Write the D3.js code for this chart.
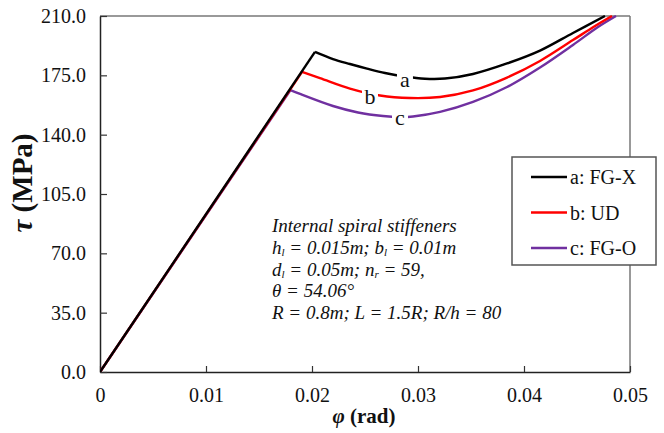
<!DOCTYPE html>
<html>
<head>
<meta charset="utf-8">
<script src="https://cdn.jsdelivr.net/npm/d3@7"></script>
<style>
  html, body { margin: 0; padding: 0; background: #fff; }
  svg { display: block; }
  svg text { font-family: "Liberation Serif", "Tinos", "Times New Roman", "Nimbus Roman", "DejaVu Serif", serif; }
</style>
</head>
<body>
<svg id="chart" width="664" height="433"></svg>
<script>
// ---- data ----
const seriesNames = ["a: FG-X", "b: UD", "c: FG-O"];
const seriesKeys = ["a", "b", "c"];
const seriesColors = ["#000000", "#ff0000", "#7030a0"];

const phiA = [0, 0.02028, 0.02198, 0.02358, 0.02519, 0.02689, 0.02877, 0.03066, 0.03255, 0.03519, 0.03840, 0.04151, 0.04462, 0.04764];
const tauA = [0, 188.8, 184.6, 181.7, 179.0, 176.4, 174.3, 173.0, 173.1, 175.8, 182.0, 189.6, 200.0, 210.0];

const phiB = [0, 0.01906, 0.02075, 0.02358, 0.02642, 0.02925, 0.03208, 0.03519, 0.03840, 0.04151, 0.04462, 0.04670, 0.04830];
const tauB = [0, 177.0, 173.4, 167.2, 163.1, 161.6, 162.2, 166.1, 173.7, 183.5, 195.8, 204.1, 210.0];

const phiC = [0, 0.01797, 0.01887, 0.02198, 0.02434, 0.02670, 0.02830, 0.02953, 0.03208, 0.03519, 0.03840, 0.04151, 0.04462, 0.04698, 0.04868];
const tauC = [0, 166.3, 164.0, 156.9, 153.1, 151.0, 150.4, 150.7, 153.4, 159.3, 168.1, 179.6, 192.9, 203.5, 210.0];

// curve label positions (phi, tau)
const labelPhi = [0.02877, 0.02547, 0.02830];
const labelTau = [172.2, 162.2, 149.8];

const xTicks = [0, 0.01, 0.02, 0.03, 0.04, 0.05];
const xTickLabels = ["0", "0.01", "0.02", "0.03", "0.04", "0.05"];
const yTicks = [0, 35, 70, 105, 140, 175, 210];
const yTickLabels = ["0.0", "35.0", "70.0", "105.0", "140.0", "175.0", "210.0"];

const noteLines = [
  [["Internal spiral stiffeners", null]],
  [["h", null], ["l", "sub"], [" = 0.015m; b", null], ["l", "sub"], [" = 0.01m", null]],
  [["d", null], ["l", "sub"], [" = 0.05m; n", null], ["r", "sub"], [" = 59,", null]],
  [["\u03b8 = 54.06\u00b0", null]],
  [["R = 0.8m; L = 1.5R; R/h = 80", null]]
];

// ---- layout ----
const FONT = "'Liberation Serif', 'Tinos', 'Times New Roman', 'Nimbus Roman', 'DejaVu Serif', serif";
const svg = d3.select("#chart");
const L = 100, R = 630, T = 16, B = 372;
const x = d3.scaleLinear().domain([0, 0.05]).range([L, R]);
const y = d3.scaleLinear().domain([0, 210]).range([B, T]);

svg.append("defs").append("clipPath").attr("id", "clip")
  .append("rect").attr("x", L).attr("y", T - 1).attr("width", R - L).attr("height", B - T + 1);

// frame top/right
svg.append("line").attr("x1", L).attr("x2", R).attr("y1", T).attr("y2", T)
  .attr("stroke", "#777").attr("stroke-width", 1.5);
svg.append("line").attr("x1", R).attr("x2", R).attr("y1", T).attr("y2", B)
  .attr("stroke", "#777").attr("stroke-width", 1.5);

// axes
const xAxis = d3.axisBottom(x).tickValues(xTicks).tickFormat((d, i) => xTickLabels[i])
  .tickSizeInner(-6).tickSizeOuter(0).tickPadding(16);
const gx = svg.append("g").attr("transform", `translate(0,${B})`).call(xAxis);
const yAxis = d3.axisLeft(y).tickValues(yTicks).tickFormat((d, i) => yTickLabels[i])
  .tickSizeInner(-7).tickSizeOuter(0).tickPadding(14);
const gy = svg.append("g").attr("transform", `translate(${L},0)`).call(yAxis);

[gx, gy].forEach(g => {
  g.attr("font-family", FONT);
  g.select(".domain").attr("stroke", "#222").attr("stroke-width", 1.5);
  g.selectAll(".tick line").attr("stroke", "#333").attr("stroke-width", 1.2);
  g.selectAll(".tick text").attr("font-size", 20).attr("fill", "#111");
});

// curves
const datasets = [[phiA, tauA], [phiB, tauB], [phiC, tauC]];
const plot = svg.append("g").attr("clip-path", "url(#clip)");
const curveGen = d3.line().x(d => x(d[0])).y(d => y(d[1])).curve(d3.curveCatmullRom.alpha(0.5));
const linGen = d3.line().x(d => x(d[0])).y(d => y(d[1]));

[2, 1, 0].forEach(i => {
  const pts = datasets[i][0].map((p, j) => [p, datasets[i][1][j]]);
  plot.append("path").attr("d", linGen(pts.slice(0, 2)))
    .attr("fill", "none").attr("stroke", seriesColors[i]).attr("stroke-width", 2.4);
  plot.append("path").attr("d", curveGen(pts.slice(1)))
    .attr("fill", "none").attr("stroke", seriesColors[i]).attr("stroke-width", 2.4);
});

// curve labels
seriesKeys.forEach((k, i) => {
  const cx = x(labelPhi[i]), cy = y(labelTau[i]);
  svg.append("rect").attr("x", cx - 8).attr("y", cy - 9).attr("width", 16).attr("height", 18)
    .attr("fill", "#fff");
  svg.append("text").attr("x", cx).attr("y", cy).attr("dy", "0.33em")
    .attr("text-anchor", "middle").attr("font-size", 22).attr("fill", "#111").text(k);
});

// annotation
const note = svg.append("g").attr("font-style", "italic").attr("font-size", 19).attr("fill", "#111");
noteLines.forEach((parts, i) => {
  const t = note.append("text").attr("x", 272).attr("y", 232 + i * 21.75);
  parts.forEach(([s, kind]) => {
    if (kind === "sub") {
      t.append("tspan").attr("font-size", 11).attr("dy", 2).text(s);
    } else {
      const ts = t.append("tspan").text(s);
      if (t.selectAll("tspan").size() > 1) ts.attr("dy", -2);
    }
  });
});

// legend
const lg = svg.append("g");
lg.append("rect").attr("x", 512).attr("y", 157).attr("width", 144).attr("height", 108)
  .attr("fill", "#fff").attr("stroke", "#555").attr("stroke-width", 1.5);
seriesNames.forEach((n, i) => {
  const yy = 177 + i * 35.5;
  lg.append("line").attr("x1", 531).attr("x2", 567).attr("y1", yy).attr("y2", yy)
    .attr("stroke", seriesColors[i]).attr("stroke-width", 2.4);
  lg.append("text").attr("x", 570).attr("y", yy).attr("dy", "0.35em")
    .attr("font-size", 20).attr("fill", "#111").text(n);
});

// axis titles
const xt = svg.append("text").attr("x", 364).attr("y", 423).attr("text-anchor", "middle")
  .attr("font-size", 21).attr("font-weight", "bold").attr("fill", "#111");
xt.append("tspan").attr("font-style", "italic").text("\u03c6");
xt.append("tspan").text(" (rad)");

const yt = svg.append("text").attr("transform", "translate(32,183) rotate(-90)")
  .attr("text-anchor", "middle").attr("font-size", 29).attr("font-weight", "bold").attr("fill", "#111");
yt.append("tspan").attr("font-style", "italic").text("\u03c4");
yt.append("tspan").text(" (MPa)");
</script>
</body>
</html>
